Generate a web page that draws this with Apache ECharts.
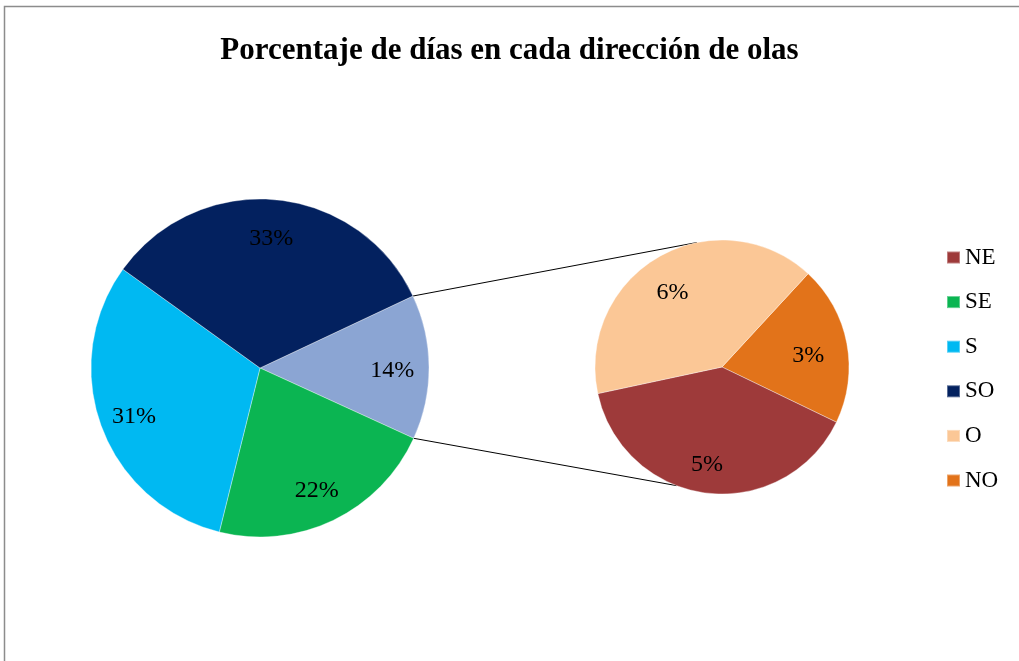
<!DOCTYPE html>
<html>
<head>
<meta charset="utf-8">
<script src="https://cdn.jsdelivr.net/npm/echarts@6/dist/echarts.min.js"></script>
<style>
html, body { margin: 0; padding: 0; background: #fff; }
#chart { width: 1019px; height: 661px; }
</style>
</head>
<body>
<div id="chart"></div>
<script>
// datos
var legendNames = ['NE', 'SE', 'S', 'SO', 'O', 'NO'];
var mainNames = ['Otros', 'SE', 'S', 'SO'];
var mainValues = [0, 22, 31, 33];      // 'Otros' = suma del segundo gráfico
var subNames = ['NO', 'NE', 'O'];
var subValues = [2.8, 5.45, 5.55];

var colors = {
    NE: '#9e3a3a',
    SE: '#0bb552',
    S: '#00b9f2',
    SO: '#03215f',
    O: '#fbc796',
    NO: '#e2731a',
    Otros: '#8ba5d3'
};

var otros = subValues.reduce(function (a, b) { return a + b; }, 0);
mainValues[0] = otros;
var mainTotal = mainValues.reduce(function (a, b) { return a + b; }, 0);

var mainCenter = [260, 368], mainR = 169, mainStart = 25.2;
var subCenter = [722, 367], subR = 127, subStart = 47.3;

function mk(names, values) {
    return names.map(function (n, i) {
        return {name: n, value: values[i], itemStyle: {color: colors[n]}};
    });
}

function pt(c, r, deg) {
    var a = deg * Math.PI / 180;
    return [c[0] + r * Math.cos(a), c[1] - r * Math.sin(a)];
}

function labelStyle(offset) {
    return {
        show: true,
        position: 'inside',
        fontFamily: 'Liberation Serif',
        fontSize: 24,
        color: '#000',
        offset: offset,
        formatter: function (p) { return Math.round(p.value) + '%'; }
    };
}

var mainEnd = mainStart - otros / mainTotal * 360;
var a1 = pt(mainCenter, mainR, mainStart), b1 = pt(subCenter, subR, 101.4);
var a2 = pt(mainCenter, mainR, mainEnd), b2 = pt(subCenter, subR, -110.9);

var myChart = echarts.init(document.getElementById('chart'));
var option = {
    animation: false,
    title: {
        text: 'Porcentaje de días en cada dirección de olas',
        left: 'center',
        top: 30,
        textStyle: {
            fontFamily: 'Liberation Serif',
            fontSize: 31,
            fontWeight: 'bold',
            color: '#000'
        }
    },
    legend: {
        orient: 'vertical',
        left: 946,
        top: 246,
        padding: 0,
        itemWidth: 13,
        itemHeight: 12,
        itemGap: 21.6,
        icon: 'rect',
        textStyle: {
            fontFamily: 'Liberation Serif',
            fontSize: 23,
            lineHeight: 23,
            color: '#000'
        },
        data: legendNames.map(function (n) {
            return {name: n, itemStyle: {color: colors[n]}};
        })
    },
    graphic: [
        {
            type: 'rect', silent: true, z: -1,
            shape: {x: 4.5, y: 6.5, width: 1100, height: 800},
            style: {fill: 'none', stroke: '#8c8c8c', lineWidth: 1.5}
        },
        {
            type: 'line', silent: true,
            shape: {x1: a1[0], y1: a1[1], x2: b1[0], y2: b1[1]},
            style: {stroke: '#000', lineWidth: 1}
        },
        {
            type: 'line', silent: true,
            shape: {x1: a2[0], y1: a2[1], x2: b2[0], y2: b2[1]},
            style: {stroke: '#000', lineWidth: 1}
        }
    ],
    series: [
        {
            type: 'pie',
            center: mainCenter,
            radius: [0, mainR],
            startAngle: mainStart,
            clockwise: true,
            label: {show: false},
            labelLine: {show: false},
            itemStyle: {borderColor: 'rgba(255,255,255,0.35)', borderWidth: 1},
            data: mk(mainNames, mainValues)
        },
        {
            type: 'pie',
            center: subCenter,
            radius: [0, subR],
            startAngle: subStart,
            clockwise: true,
            label: {show: false},
            labelLine: {show: false},
            itemStyle: {borderColor: 'rgba(255,255,255,0.35)', borderWidth: 1},
            data: mk(subNames, subValues)
        },
        {
            type: 'pie',
            silent: true,
            legendHoverLink: false,
            center: mainCenter,
            radius: [mainR * 0.54, mainR],
            startAngle: mainStart,
            clockwise: true,
            label: labelStyle([-1, 3]),
            labelLine: {show: false},
            itemStyle: {color: 'rgba(0,0,0,0)'},
            data: mainNames.map(function (n, i) { return {name: n, value: mainValues[i]}; })
        },
        {
            type: 'pie',
            silent: true,
            legendHoverLink: false,
            center: subCenter,
            radius: [subR * 0.4, subR],
            startAngle: subStart,
            clockwise: true,
            label: labelStyle([-4, 6]),
            labelLine: {show: false},
            itemStyle: {color: 'rgba(0,0,0,0)'},
            data: subNames.map(function (n, i) { return {name: n, value: subValues[i]}; })
        }
    ]
};
myChart.setOption(option);
</script>
</body>
</html>
